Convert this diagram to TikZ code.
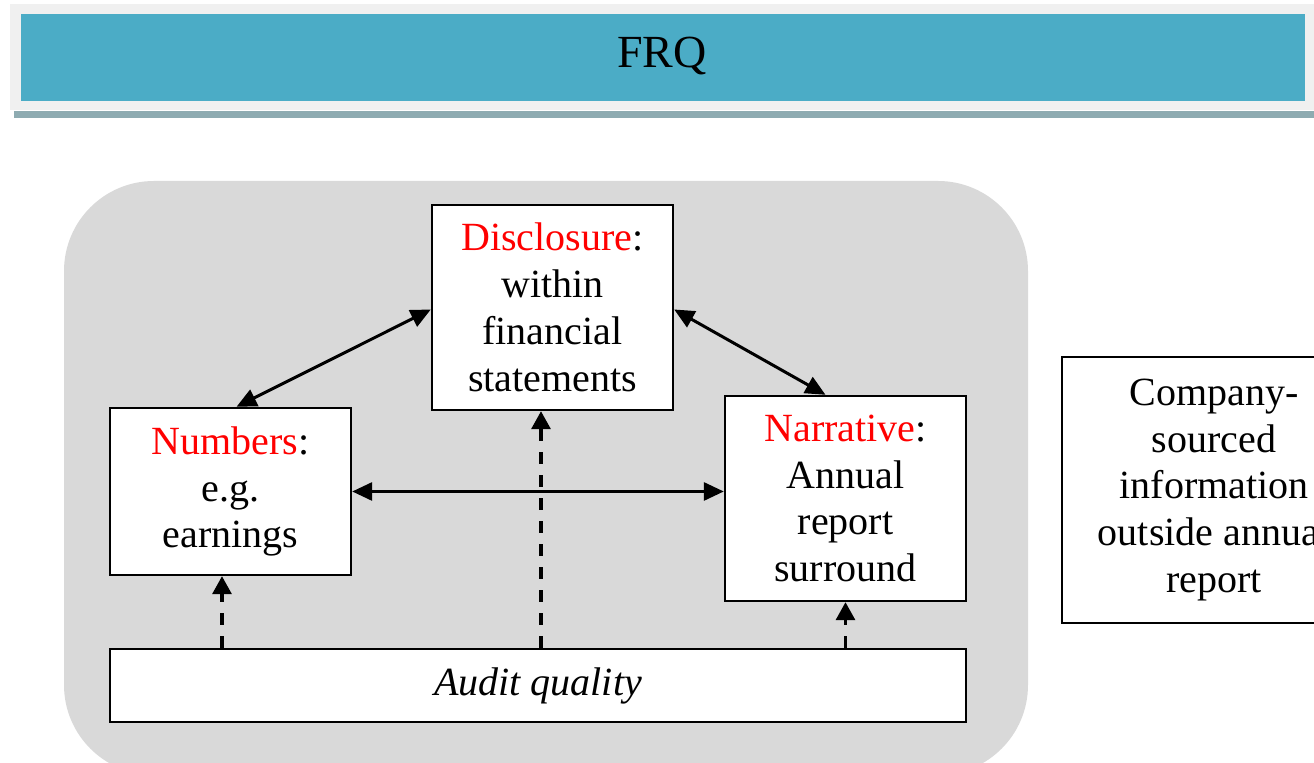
\documentclass[tikz,border=0pt]{standalone}
\usepackage{fontspec}
\setmainfont{Liberation Serif}
\usetikzlibrary{arrows.meta}
\definecolor{barblue}{HTML}{4BACC6}
\definecolor{barframe}{HTML}{F0F0F0}
\definecolor{barshadow}{HTML}{8EABB1}
\definecolor{panelgray}{HTML}{D9D9D9}
\definecolor{keyred}{HTML}{FF0000}
\begin{document}
\begin{tikzpicture}[x=0.5pt,y=-0.5pt,
  infobox/.style={draw=black,line width=1.2pt,fill=white,inner sep=0pt,
    align=center,font=\fontsize{20}{23.4}\selectfont},
  twoway/.style={{Triangle[length=10pt,width=9pt]}-{Triangle[length=10pt,width=9pt]},line width=1.5pt},
  dasharrow/.style={-{Triangle[length=9pt,width=9.5pt]},line width=1.6pt,dash pattern=on 6pt off 5.5pt}]
\useasboundingbox (0,0) rectangle (1314,763);
\clip (0,0) rectangle (1314,763);
% title bar
\fill[barframe] (10,4) rectangle (1320,110.5);
\fill[barshadow] (14,111) rectangle (1320,118);
\fill[barblue] (20.5,14) rectangle (1305,101);
\node[font=\fontsize{23}{26}\selectfont] (title) at (662,56) {FRQ};
% grey panel holding the annual report elements
\fill[panelgray,rounded corners=45pt] (64,181) rectangle (1028,775);
% boxes
\node[infobox,minimum width=120.5pt,minimum height=102.5pt] (disc) at (552.5,307.5)
  {\textcolor{keyred}{Disclosure}:\\within\\financial\\statements};
\node[infobox,minimum width=120.5pt,minimum height=83.5pt] (num) at (230.5,491.5)
  {\textcolor{keyred}{Numbers}:\\e.g.\\earnings};
\node[infobox,minimum width=120.5pt,minimum height=102.5pt] (narr) at (845.5,498.5)
  {\textcolor{keyred}{Narrative}:\\Annual\\report\\surround};
\node[infobox,minimum width=428pt,minimum height=36.5pt] (audit) at (538,685.5)
  {\textit{Audit quality}};
\node[infobox,minimum width=152pt,minimum height=133pt] (comp) at (1214,490)
  {Company-\\sourced\\information\\outside annual\\report};
% two-way links
\draw[twoway] ([yshift=-1pt]disc.west) -- ([xshift=3pt]num.north);
\draw[twoway] ([yshift=-1pt]disc.east) -- ([xshift=-10pt]narr.north);
\draw[twoway] (num.east) -- (num.east -| narr.west);
% audit quality influences
\coordinate (na) at ([xshift=-4.25pt]num.south);
\coordinate (da) at ([xshift=-5.75pt]disc.south);
\coordinate (ra) at (narr.south);
\draw[dasharrow] (na |- audit.north) -- (na);
\draw[dasharrow] (da |- audit.north) -- (da);
\draw[dasharrow] (ra |- audit.north) -- (ra);
\end{tikzpicture}
\end{document}
